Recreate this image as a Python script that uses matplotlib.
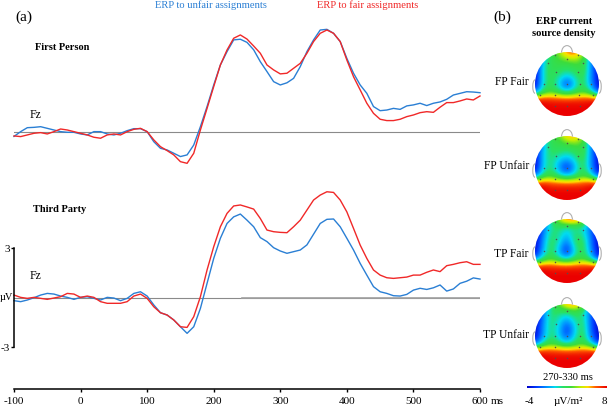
import numpy as np
import matplotlib
matplotlib.use('Agg')
import matplotlib.pyplot as plt
from matplotlib.patches import Circle, Arc
from matplotlib.colors import LinearSegmentedColormap

plt.rcParams['font.family'] = ['Liberation Serif', 'DejaVu Serif']

# ---------------- data ----------------
times_ms = np.arange(-100, 601, 10)

# First Person, Fz (µV)
fp_unfair = [-0.25, 0.04, 0.28, 0.30, 0.34, 0.24, 0.14, 0.04, 0.0, 0.0,
             -0.10, -0.16, 0.04, 0.04, -0.10, -0.16, -0.06, 0.10, 0.22, 0.22,
             0.04, -0.57, -0.97, -1.07, -1.27, -1.47, -1.37, -0.77, 0.34, 1.56,
             2.87, 4.08, 4.89, 5.60, 5.64, 5.45,
             5.0, 4.28, 3.68, 3.07, 2.87, 3.0, 3.27, 3.98, 4.89, 5.6,
             6.2, 6.24, 6.0, 5.5, 4.48, 3.58, 2.87, 2.36, 1.56, 1.31,
             1.35, 1.45, 1.39, 1.6, 1.66, 1.76, 1.62, 1.76, 1.84, 2.0,
             2.26, 2.36, 2.46, 2.44, 2.4]
fp_fair = [-0.22, -0.26, -0.16, -0.06, -0.02, -0.10, 0.04, 0.20, 0.14, 0.04,
           -0.06, -0.16, -0.30, -0.36, -0.16, -0.10, -0.16, 0.04, 0.18, 0.24,
           0.04, -0.46, -0.87, -1.11, -1.37, -1.78, -1.88, -1.27, 0.14, 1.45,
           2.77, 4.08, 4.99, 5.70, 5.90, 5.65,
           5.23, 4.79, 4.08, 3.78, 3.54, 3.58, 3.88, 4.18, 4.79, 5.5,
           6.0, 6.2, 6.0, 5.5, 4.38, 3.37, 2.57, 1.76, 1.15, 0.79,
           0.71, 0.71, 0.79, 0.95, 1.05, 1.19, 1.25, 1.21, 1.52, 1.8,
           1.8, 1.9, 2.02, 1.96, 2.2]

# Third Party, Fz (µV)
tp_unfair = [-0.18, -0.24, -0.14, 0.0, 0.16, 0.26, 0.22, 0.10, 0.02, -0.10,
             0.02, 0.06, -0.04, -0.14, 0.02, -0.02, -0.18, -0.04, 0.26, 0.36,
             0.10, -0.44, -0.91, -1.05, -1.35, -1.76, -2.16, -1.76, -0.65, 0.87,
             2.38, 3.60, 4.50, 4.90, 5.07, 4.70,
             4.3, 3.64, 3.4, 3.03, 2.83, 2.69, 2.79, 2.89, 3.2, 3.85,
             4.5, 4.75, 4.77, 4.3, 3.6, 2.89, 2.08, 1.37, 0.67, 0.36,
             0.26, 0.12, 0.1, 0.2, 0.46, 0.57, 0.5, 0.6, 0.77, 0.4,
             0.53, 0.87, 1.0, 1.2, 1.13]
tp_fair = [0.16, 0.02, -0.04, 0.02, -0.04, -0.10, -0.02, 0.06, 0.26, 0.22,
           0.02, 0.10, 0.02, -0.24, -0.34, -0.34, -0.34, -0.24, 0.10, 0.22,
           -0.04, -0.55, -0.91, -1.05, -1.35, -1.76, -1.80, -1.15, 0.06, 1.68,
           3.09, 4.30, 5.11, 5.56, 5.62, 5.50,
           5.37, 4.8, 4.1, 4.0, 3.96, 3.94, 4.3, 4.7, 5.31, 5.92,
           6.22, 6.42, 6.38, 5.92, 5.2, 4.2, 3.19, 2.38, 1.68, 1.37,
           1.21, 1.17, 1.21, 1.25, 1.37, 1.37, 1.54, 1.68, 1.58, 1.94,
           2.02, 2.12, 2.18, 2.02, 2.02]

x_ticks = [-100, 0, 100, 200, 300, 400, 500, 600]
scale_ticks = [-3, 3]

# Current source density maps (µV/m²), rows anterior -> posterior
map_labels = ['FP Fair', 'FP Unfair', 'TP Fair', 'TP Unfair']
csd_fp_fair = [
    [-3, -1, 2, 3.5, 6.5, 7, 4, 0, -4],
    [-4, 0, 2, 2.5, 3, 3.5, 2.5, -1, -4],
    [-4, 0.5, 2, 2, 1.5, 2, 2.5, -1, -4],
    [-4, 0.5, 2, 1, 0, 1, 2, -1, -4],
    [-4, 0.5, 2, 0, -3, 0, 2, -1, -4],
    [-2, 1.5, 2.5, 1.5, 0.5, 1.5, 2.5, 1, -3],
    [8, 8, 7.5, 7.5, 7.5, 7.5, 7.5, 8, 8],
    [8, 8, 8, 8, 8, 8, 8, 8, 8],
    [8, 8, 8, 8, 8, 8, 8, 8, 8],
]
csd_fp_unfair = [
    [-3, -1, 2, 3, 5.5, 6, 3.5, 0, -4],
    [-4, -0.5, 2, 2, 2.5, 3, 2.5, -1, -4],
    [-4, 0, 1.5, 1.5, 1, 1.5, 2.5, -1, -4],
    [-4, 0, 1.5, 0, -1, 0.5, 2, -1, -4],
    [-4, 0, 1.5, -1, -3.5, -0.5, 2, -1, -4],
    [-2, 1.5, 2.5, 1, 0, 1, 2.5, 1, -3],
    [8, 8, 7, 7, 7, 7, 7, 8, 8],
    [8, 8, 8, 8, 8, 8, 8, 8, 8],
    [8, 8, 8, 8, 8, 8, 8, 8, 8],
]
csd_tp_fair = [
    [-4, -2, 1, 4, 7, 7, 5, -1, -4],
    [-4, -2, 1, 1.5, 0.5, 1, 0.5, -2, -4],
    [-4, -1.5, 1.5, 1, -0.5, 1.5, 1, -1.5, -4],
    [-4, -1, 2, 0.5, -2, 1.5, 2, -1.5, -4],
    [-4, -0.5, 2, -0.5, -3.5, 0.5, 2, -1, -4],
    [-2, 1, 2.5, 1, 0, 1.5, 2.5, 0.5, -3],
    [8, 8, 7.5, 7.5, 7.5, 7.5, 7.5, 8, 8],
    [8, 8, 8, 8, 8, 8, 8, 8, 8],
    [8, 8, 8, 8, 8, 8, 8, 8, 8],
]
csd_tp_unfair = [
    [-4, -2, 1, 3, 6, 6.5, 4, -1, -4],
    [-4, -1.5, 1.5, 1.5, 1, 2, 1, -2, -4],
    [-4, -1.5, 1.5, 0.5, -1, 1, 1.5, -2, -4],
    [-4, -1, 1.5, 0, -3, 0, 2, -2, -4],
    [-4, -1, 1.5, 0, -2.5, 0.5, 2, -1.5, -4],
    [-2, 1, 2.5, 1.5, 0.5, 1.5, 2.5, 0.5, -3],
    [8, 8, 7.5, 7.5, 7.5, 7.5, 7.5, 8, 8],
    [8, 8, 8, 8, 8, 8, 8, 8, 8],
    [8, 8, 8, 8, 8, 8, 8, 8, 8],
]
csd_maps = [csd_fp_fair, csd_fp_unfair, csd_tp_fair, csd_tp_unfair]
csd_range = (-4, 8)

# ---------------- layout ----------------
W, H = 608, 409
fig = plt.figure(figsize=(W / 100, H / 100), dpi=100)

def fax(l, t, r, b):
    return fig.add_axes([l / W, 1 - b / H, (r - l) / W, (b - t) / H])

def ftext(x, y, s, **kw):
    fig.text(x / W, 1 - y / H, s, **kw)

BLUE = '#2a7fd4'
RED = '#f02828'
GRAY = '#8a8a8a'
PXUV = 16.5  # px per µV

ax1 = fax(14, 0, 480, 190)
ax1.set_xlim(-100, 600)
ax1.set_ylim((132.3 - 190) / PXUV, 132.3 / PXUV)
ax1.axis('off')
ax1.axhline(0, color=GRAY, lw=0.8)
ax1.plot(times_ms, fp_unfair, color=BLUE, lw=1.0, clip_on=False)
ax1.plot(times_ms, fp_fair, color=RED, lw=1.0, clip_on=False)

ax2 = fax(14, 190, 480, 389)
ax2.set_xlim(-100, 600)
ax2.set_ylim((297.7 - 389) / PXUV, (297.7 - 190) / PXUV)
for s in ['top', 'right']:
    ax2.spines[s].set_visible(False)
ax2.spines['bottom'].set_linewidth(1.1)
ax2.spines['left'].set_linewidth(1.1)
ax2.spines['left'].set_bounds(-3, 3)
ax2.set_facecolor('none')
ax2.axhline(0, color=GRAY, lw=0.8)
ax2.plot([242, 600], [0, 0], color='#a0a0a0', lw=1.2)
ax2.plot(times_ms, tp_unfair, color=BLUE, lw=1.0, clip_on=False)
ax2.plot(times_ms, tp_fair, color=RED, lw=1.0, clip_on=False)
ax2.set_xticks(x_ticks)
ax2.set_xticklabels([str(v) for v in x_ticks], fontsize=8)
ax2.set_yticks(scale_ticks)
ax2.set_yticklabels([str(v) for v in scale_ticks], fontsize=8)
ax2.tick_params(axis='x', direction='out', length=2.5, width=1.0, pad=3.5)
ax2.tick_params(axis='y', direction='out', length=2.2, width=1.0, pad=1.0)

# panel (a) texts
ftext(15, 17, '(a)', fontsize=11, va='center', ha='left')
ftext(211, 5, 'ERP to unfair assignments', color=BLUE, fontsize=7.6, ha='center', va='center')
ftext(368, 5, 'ERP to fair assignments', color=RED, fontsize=7.6, ha='center', va='center')
ftext(35, 48, 'First Person', fontsize=7.5, fontweight='bold', ha='left', va='center')
ftext(30, 115, 'Fz', fontsize=8.5, ha='left', va='center')
ftext(33, 209, 'Third Party', fontsize=7.5, fontweight='bold', ha='left', va='center')
ftext(30, 276, 'Fz', fontsize=8.5, ha='left', va='center')
ftext(13.3, 298, 'µV', fontsize=7.5, ha='right', va='center')
ftext(491, 401, 'ms', fontsize=8, ha='left', va='center')

# panel (b)
ftext(493, 17, '(b)', fontsize=11, va='center', ha='left')
ftext(564, 22, 'ERP current', fontsize=7.6, fontweight='bold', ha='center', va='center')
ftext(564, 34, 'source density', fontsize=7.6, fontweight='bold', ha='center', va='center')

cmap = LinearSegmentedColormap.from_list('csd', [
    (0.00, '#0000c8'), (0.12, '#003cff'), (0.25, '#0096ff'), (0.35, '#00dcf0'),
    (0.45, '#28e164'), (0.55, '#3cdc3c'), (0.68, '#c8f000'), (0.76, '#ffdc00'),
    (0.86, '#ff5a00'), (1.00, '#eb0000')])

elec = [(-0.38, 0.9), (0.0, 0.78), (0.35, 0.9), (-0.6, 0.66), (0.5, 0.66),
        (-0.33, 0.39), (0.34, 0.39), (-0.73, 0.0), (-0.36, 0.0), (0.0, 0.0),
        (0.4, 0.0), (0.76, 0.0), (-0.85, -0.34), (-0.39, -0.34), (0.37, -0.34),
        (0.81, -0.34), (-0.39, -0.7), (0.0, -0.7), (0.4, -0.7)]

centers_y = [84, 168, 251, 336]
cx = 567
label_y = [82, 166, 254, 335]
for m, cy, lab, ly in zip(csd_maps, centers_y, map_labels, label_y):
    axh = fax(cx - 38, cy - 38, cx + 38, cy + 38)
    axh.set_xlim(-1.1875, 1.1875)
    axh.set_ylim(-1.1875, 1.1875)
    axh.axis('off')
    im = axh.imshow(np.array(m, dtype=float), cmap=cmap, vmin=csd_range[0], vmax=csd_range[1],
                    extent=[-1.125, 1.125, -1.125, 1.125], origin='upper',
                    interpolation='bicubic', interpolation_stage='data', aspect='auto')
    circ = Circle((0, 0), 1.0, transform=axh.transData, facecolor='none', edgecolor='none')
    axh.add_patch(circ)
    im.set_clip_path(circ)
    axh.add_patch(Arc((0, 0.98), 0.34, 0.44, theta1=0, theta2=180, color='#b0b0b0', lw=0.8, clip_on=False))
    axh.add_patch(Arc((-1.0, -0.08), 0.14, 0.42, theta1=90, theta2=270, color='#b0b0b0', lw=0.8, clip_on=False))
    axh.add_patch(Arc((1.0, -0.08), 0.14, 0.42, theta1=-90, theta2=90, color='#b0b0b0', lw=0.8, clip_on=False))
    ex, ey = zip(*elec)
    axh.scatter(ex, ey, s=1.2, color='#505050', zorder=3, linewidths=0)
    ftext(529, ly, lab, fontsize=8.3, ha='right', va='center')

# colorbar
axc = fax(527, 385.5, 607, 388.5)
axc.imshow(np.linspace(0, 1, 256)[None, :], cmap=cmap, aspect='auto',
           extent=[csd_range[0], csd_range[1], 0, 1])
axc.axis('off')
ftext(568, 378, '270-330 ms', fontsize=7.6, ha='center', va='center')
ftext(529, 402, str(csd_range[0]), fontsize=8, ha='center', va='center')
ftext(568, 402, 'µV/m²', fontsize=8, ha='center', va='center')
ftext(604, 402, str(csd_range[1]), fontsize=8, ha='center', va='center')

fig.savefig('out.png', dpi=100)
